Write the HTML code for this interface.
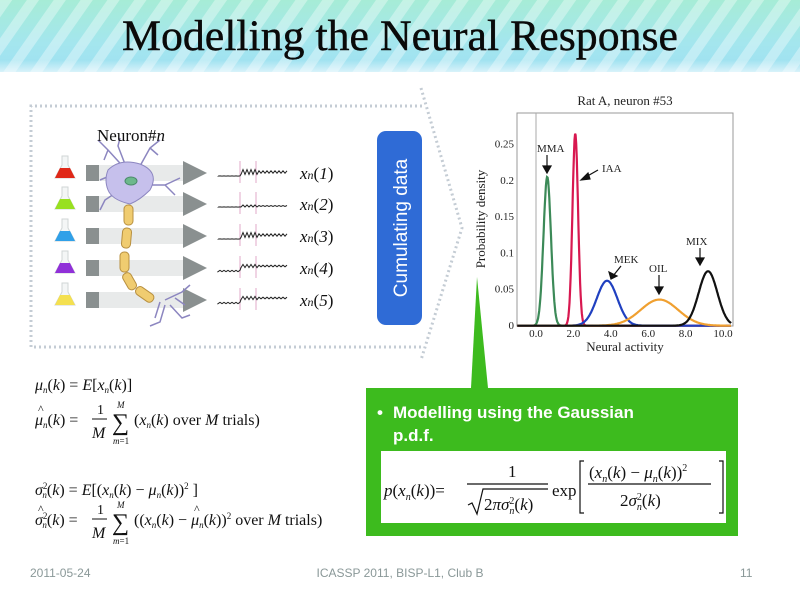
<!DOCTYPE html>
<html><head><meta charset="utf-8"><style>
html,body{margin:0;padding:0;background:#fff;}
svg{display:block;}
.s{font-family:"Liberation Serif",serif;}
.a{font-family:"Liberation Sans",sans-serif;}
</style></head><body>
<svg id="sv" width="800" height="598" viewBox="0 0 800 598" xmlns="http://www.w3.org/2000/svg">
<defs>
<linearGradient id="tg" x1="0" y1="0" x2="0" y2="1">
<stop offset="0" stop-color="#a6ecd6"/><stop offset="0.6" stop-color="#a4e6ee"/><stop offset="1" stop-color="#9ee0f2"/>
</linearGradient>
<pattern id="st" width="22" height="22" patternUnits="userSpaceOnUse" patternTransform="rotate(35)">
<rect x="0" y="0" width="10" height="22" fill="#ffffff" fill-opacity="0.35"/>
</pattern>
<linearGradient id="fade" x1="0" y1="0" x2="0" y2="1"><stop offset="0" stop-color="#fff" stop-opacity="0"/><stop offset="1" stop-color="#fff" stop-opacity="0.6"/></linearGradient>
</defs>
<rect x="0" y="0" width="800" height="72" fill="url(#tg)"/>
<rect x="0" y="0" width="800" height="72" fill="url(#st)"/>
<rect x="0" y="60" width="800" height="12" fill="url(#fade)"/>
<text x="400" y="50" text-anchor="middle" class="s" font-size="43" fill="#0a0a0a" stroke="#0a0a0a" stroke-width="0.4" textLength="556" lengthAdjust="spacingAndGlyphs">Modelling the Neural Response</text>

<path d="M422 106 L31 106 L31 347 L422 347" fill="none" stroke="#c4ccd4" stroke-width="3" stroke-dasharray="2 3"/>
<path d="M421 88 L462 228 L421 360" fill="none" stroke="#c4ccd4" stroke-width="3" stroke-dasharray="2 3"/>

<g id="rows"></g>
<g stroke="#8c86c0" stroke-width="1.5" fill="none">
<path d="M128 172 L108 150 M108 150 L98 140 M108 150 L104 160 M128 172 L118 146 L120 138 M135 175 L150 148 L160 140 M150 148 L158 155 M140 185 L165 185 L180 178 M165 185 L175 195 M120 190 L105 200 L100 210 M125 168 L112 175 L100 180"/>
<path d="M165 300 L182 292 L190 285 M170 305 L182 318 L190 315 M165 305 L160 322 L150 326 M175 298 L185 305 M160 302 L155 318"/>
</g>
<path d="M108 170 Q120 158 140 164 Q160 172 150 190 Q140 200 130 204 Q112 200 108 190 Q104 180 108 170 Z" fill="#c6c0ec" stroke="#8c86c0"/>
<ellipse cx="131" cy="181" rx="6" ry="4" fill="#6cb88c" stroke="#4a8a6a"/>
<g fill="#f0cc70" stroke="#b89040" stroke-width="1">
<rect x="124" y="205" width="9" height="20" rx="4"/>
<rect x="122" y="228" width="9" height="20" rx="4" transform="rotate(5 126 238)"/>
<rect x="120" y="252" width="9" height="20" rx="4"/>
<rect x="125" y="272" width="9" height="18" rx="4" transform="rotate(-30 130 281)"/>
<rect x="140" y="284" width="9" height="20" rx="4" transform="rotate(-55 145 294)"/>
</g>
<text x="97" y="141" class="s" font-size="17" fill="#111">Neuron#<tspan font-style="italic">n</tspan></text>

<g class="s" font-size="17" font-style="italic" fill="#111" id="xl"></g>

<rect x="377" y="131" width="45" height="194" rx="9" fill="#2f6bd6"/>
<text transform="translate(407 228) rotate(-90)" text-anchor="middle" class="a" font-size="19" fill="#fff">Cumulating data</text>

<text x="625" y="105" text-anchor="middle" class="s" font-size="13" fill="#222">Rat A, neuron #53</text>
<rect x="517" y="113" width="216" height="213" fill="none" stroke="#999" stroke-width="1"/>
<line x1="536" y1="113" x2="536" y2="326" stroke="#aaa" stroke-width="1"/>
<g class="s" font-size="11" fill="#222" text-anchor="end" id="yt"></g>
<g class="s" font-size="11" fill="#222" text-anchor="middle" id="xt"></g>
<text x="625" y="351" text-anchor="middle" class="s" font-size="13" fill="#222">Neural activity</text>
<text transform="translate(485 219) rotate(-90)" text-anchor="middle" class="s" font-size="13" fill="#222">Probability density</text>
<g id="curves" fill="none" stroke-width="2.2"></g>
<g class="s" font-size="11" fill="#222">
<text x="537" y="152">MMA</text><text x="602" y="172">IAA</text><text x="614" y="263">MEK</text><text x="649" y="272">OIL</text><text x="686" y="245">MIX</text>
</g>
<g stroke="#111" stroke-width="1.2" fill="#111">
<line x1="547" y1="155" x2="547" y2="170"/><path d="M543 166 L547 173 L551 166Z"/>
<line x1="598" y1="170" x2="584" y2="178"/><path d="M588 173 L581 180 L590 179Z"/>
<line x1="621" y1="266" x2="613" y2="276"/><path d="M609 272 L611 279 L617 276Z"/>
<line x1="659" y1="275" x2="659" y2="290"/><path d="M655 287 L659 294 L663 287Z"/>
<line x1="700" y1="248" x2="700" y2="261"/><path d="M696 258 L700 265 L704 258Z"/>
</g>

<path d="M471 388 L477 277 L488 388 Z" fill="#3dbb1e"/>
<rect x="366" y="388" width="372" height="148" fill="#3dbb1e"/>
<text x="377" y="418" class="a" font-size="17" font-weight="bold" fill="#fff">•</text>
<text x="393" y="418" class="a" font-size="17" font-weight="bold" fill="#fff">Modelling using the Gaussian</text>
<text x="393" y="441" class="a" font-size="17" font-weight="bold" fill="#fff">p.d.f.</text>
<rect x="381" y="451" width="345" height="72" fill="#fff"/>
<g class="s" font-size="17" fill="#111">
<text x="384" y="496"><tspan font-style="italic">p</tspan>(<tspan font-style="italic">x</tspan><tspan font-size="10" dy="4" font-style="italic">n</tspan><tspan dy="-4">(</tspan><tspan font-style="italic">k</tspan>))=</text>
<text x="508" y="477">1</text>
<line x1="467" y1="484" x2="548" y2="484" stroke="#111" stroke-width="1.2"/>
<path d="M468 505 L472 503 L477 514 L483 489 L548 489" fill="none" stroke="#111" stroke-width="1.2"/>
<text x="484" y="510">2<tspan font-style="italic">πσ</tspan><tspan font-size="10" dy="-6">2</tspan><tspan font-size="10" dx="-5" dy="10" font-style="italic">n</tspan><tspan dy="-4">(</tspan><tspan font-style="italic">k</tspan>)</text>
<text x="552" y="496">exp</text>
<path d="M584 461 L580 461 L580 513 L584 513 M719 461 L723 461 L723 513 L719 513" fill="none" stroke="#111" stroke-width="1.2"/>
<text x="589" y="478">(<tspan font-style="italic">x</tspan><tspan font-size="10" dy="4" font-style="italic">n</tspan><tspan dy="-4">(</tspan><tspan font-style="italic">k</tspan>) − <tspan font-style="italic">μ</tspan><tspan font-size="10" dy="4" font-style="italic">n</tspan><tspan dy="-4">(</tspan><tspan font-style="italic">k</tspan>))<tspan font-size="10" dy="-7">2</tspan></text>
<line x1="588" y1="484" x2="711" y2="484" stroke="#111" stroke-width="1.2"/>
<text x="620" y="506">2<tspan font-style="italic">σ</tspan><tspan font-size="10" dy="-6">2</tspan><tspan font-size="10" dx="-5" dy="10" font-style="italic">n</tspan><tspan dy="-4">(</tspan><tspan font-style="italic">k</tspan>)</text>
</g>

<g class="s" font-size="16" fill="#111">
<text x="35" y="390"><tspan font-style="italic">μ</tspan><tspan font-size="9" dy="3" font-style="italic">n</tspan><tspan dy="-3">(</tspan><tspan font-style="italic">k</tspan>) = <tspan font-style="italic">E</tspan>[<tspan font-style="italic">x</tspan><tspan font-size="9" dy="3" font-style="italic">n</tspan><tspan dy="-3">(</tspan><tspan font-style="italic">k</tspan>)]</text>
<text x="38" y="413" font-size="12">^</text>
<text x="35" y="425"><tspan font-style="italic">μ</tspan><tspan font-size="9" dy="3" font-style="italic">n</tspan><tspan dy="-3">(</tspan><tspan font-style="italic">k</tspan>) =</text>
<text x="97" y="414" font-size="14">1</text>
<line x1="92" y1="419" x2="107" y2="419" stroke="#111"/>
<text x="92" y="438" font-style="italic">M</text>
<text x="112" y="430" font-size="24">∑</text>
<text x="117" y="408" font-size="9" font-style="italic">M</text>
<text x="113" y="444" font-size="9"><tspan font-style="italic">m</tspan>=1</text>
<text x="134" y="425">(<tspan font-style="italic">x</tspan><tspan font-size="9" dy="3" font-style="italic">n</tspan><tspan dy="-3">(</tspan><tspan font-style="italic">k</tspan>)  over  <tspan font-style="italic">M</tspan> trials)</text>
<text x="35" y="495"><tspan font-style="italic">σ</tspan><tspan font-size="9" dy="-6">2</tspan><tspan font-size="9" dx="-5" dy="9" font-style="italic">n</tspan><tspan dy="-3">(</tspan><tspan font-style="italic">k</tspan>) = <tspan font-style="italic">E</tspan>[(<tspan font-style="italic">x</tspan><tspan font-size="9" dy="3" font-style="italic">n</tspan><tspan dy="-3">(</tspan><tspan font-style="italic">k</tspan>) − <tspan font-style="italic">μ</tspan><tspan font-size="9" dy="3" font-style="italic">n</tspan><tspan dy="-3">(</tspan><tspan font-style="italic">k</tspan>))<tspan font-size="9" dy="-6">2</tspan><tspan dy="6"> ]</tspan></text>
<text x="38" y="513" font-size="12">^</text>
<text x="35" y="525"><tspan font-style="italic">σ</tspan><tspan font-size="9" dy="-6">2</tspan><tspan font-size="9" dx="-5" dy="9" font-style="italic">n</tspan><tspan dy="-3">(</tspan><tspan font-style="italic">k</tspan>) =</text>
<text x="97" y="514" font-size="14">1</text>
<line x1="92" y1="519" x2="107" y2="519" stroke="#111"/>
<text x="92" y="538" font-style="italic">M</text>
<text x="112" y="530" font-size="24">∑</text>
<text x="117" y="508" font-size="9" font-style="italic">M</text>
<text x="113" y="544" font-size="9"><tspan font-style="italic">m</tspan>=1</text>
<text x="194" y="513" font-size="12">^</text>
<text x="134" y="525">((<tspan font-style="italic">x</tspan><tspan font-size="9" dy="3" font-style="italic">n</tspan><tspan dy="-3">(</tspan><tspan font-style="italic">k</tspan>) − <tspan font-style="italic">μ</tspan><tspan font-size="9" dy="3" font-style="italic">n</tspan><tspan dy="-3">(</tspan><tspan font-style="italic">k</tspan>))<tspan font-size="9" dy="-6">2</tspan><tspan dy="6">  over  </tspan><tspan font-style="italic">M</tspan> trials)</text>
</g>

<g class="a" font-size="12" fill="#8a9898">
<text x="30" y="577">2011-05-24</text>
<text x="400" y="577" text-anchor="middle">ICASSP 2011, BISP-L1, Club B</text>
<text x="740" y="577">11</text>
</g>
</svg>
<script>
(function(){
var NS="http://www.w3.org/2000/svg";
function el(p,t,a,txt){var e=document.createElementNS(NS,t);for(var k in a)e.setAttribute(k,a[k]);if(txt!=null)e.textContent=txt;document.getElementById(p).appendChild(e);return e;}
var ys=[173,204,236,268,300],fc=["#e02818","#98e020","#30a0e8","#9030d8","#f4e050"];
ys.forEach(function(y,i){
 el("rows","rect",{x:99,y:y-8,width:84,height:16,fill:"#e8eaea"});
 el("rows","rect",{x:86,y:y-8,width:13,height:16,fill:"#8a9090"});
 el("rows","path",{d:"M183 "+(y-12)+" L207 "+y+" L183 "+(y+12)+" Z",fill:"#8a9090"});
 el("rows","path",{d:"M62 "+(y-17)+" L68 "+(y-17)+" L68 "+(y-8)+" L75 "+(y+5)+" L55 "+(y+5)+" L62 "+(y-8)+" Z",fill:"#f4f6f6",stroke:"#d0d6d6"});
 el("rows","path",{d:"M60 "+(y-5)+" L70 "+(y-5)+" L75 "+(y+5)+" L55 "+(y+5)+" Z",fill:fc[i]});
 var base=y+3, step=[4,1,4,5,5][i], amp=[1.5,0.6,1.5,1,1][i];
 var d="M218 "+base, n=0;
 for(var x=218;x<=240;x+=2){n++;d+=" L"+x+" "+(base+(n%2?0.6:-0.6)*(i>2?1.2:0.2)).toFixed(1);}
 for(var x=241;x<=288;x+=2){n++;var yy=base-step+(n%2?amp:-amp)*(x<258?1.6:0.8);d+=" L"+x+" "+yy.toFixed(1);}
 el("rows","line",{x1:240,y1:y-12,x2:240,y2:y+10,stroke:"#e0a8c8","stroke-width":1});
 el("rows","line",{x1:256,y1:y-12,x2:256,y2:y+10,stroke:"#e0a8c8","stroke-width":1});
 el("rows","path",{d:d,fill:"none",stroke:"#222","stroke-width":1});
 var t=el("xl","text",{x:300,y:y+6},"");
 t.innerHTML='x<tspan font-size="12">n</tspan><tspan font-style="normal">(</tspan>'+(i+1)+'<tspan font-style="normal">)</tspan>';
});
var yt=["0","0.05","0.1","0.15","0.2","0.25"];
yt.forEach(function(s,i){el("yt","text",{x:514,y:329-i*36.3},s);});
for(var i=0;i<=5;i++){el("xt","text",{x:536+i*2*18.7,y:337},(i*2).toFixed(1));}
function X(v){return 536+v*18.7;}function Y(p){return 325.7-p/0.05*36.3;}
var C=[[0.6,0.205,0.2,"#3c8a58"],[2.1,0.265,0.15,"#d81850"],[3.8,0.062,0.55,"#2040c0"],[6.6,0.036,1.0,"#f0a030"],[9.2,0.075,0.5,"#111"]];
C.forEach(function(c){var d="";for(var v=-1.0;v<=10.45;v+=0.03){var p=c[1]*Math.exp(-(v-c[0])*(v-c[0])/(2*c[2]*c[2]));d+=(d?" L":"M")+X(v).toFixed(1)+" "+Y(p).toFixed(1);}el("curves","path",{d:d,stroke:c[3]});});
})();
</script>
</body></html>
